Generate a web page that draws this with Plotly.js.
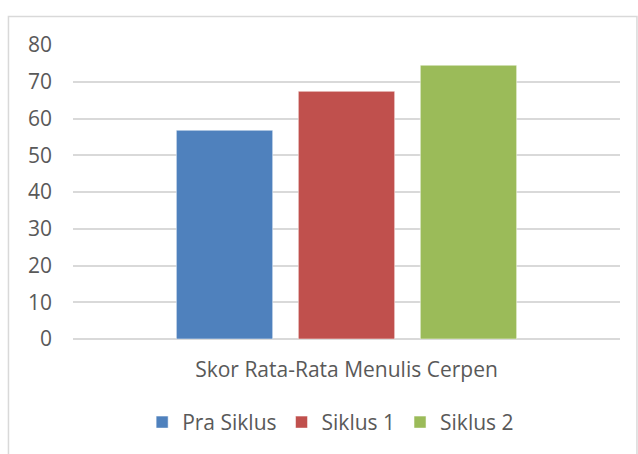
<!DOCTYPE html>
<html>
<head>
<meta charset="utf-8">
<script src="https://cdn.plot.ly/plotly-3.0.1.min.js"></script>
<style>html,body{margin:0;padding:0;background:#fff;}#chart{width:638px;height:454px;}</style>
</head>
<body>
<div id="chart"></div>
<script>
const categories = ["Skor Rata-Rata Menulis Cerpen"];
const seriesNames = ["Pra Siklus", "Siklus 1", "Siklus 2"];
const praSiklus = [56.8];
const siklus1 = [67.4];
const siklus2 = [74.5];
const yTicks = [0, 10, 20, 30, 40, 50, 60, 70, 80];
const colors = ["#4F81BD", "#C0504D", "#9BBB59"];

const values = [praSiklus, siklus1, siklus2];
const font = {family: "Open Sans, sans-serif", size: 21, color: "#595959"};

const data = seriesNames.map((name, i) => ({
  type: "bar",
  name: name,
  x: categories,
  y: values[i],
  marker: {color: colors[i], line: {color: "rgba(255,255,255,0.5)", width: 1}},
  hoverinfo: "none"
}));

const layout = {
  width: 638, height: 454,
  margin: {l: 73, r: 18, t: 45, b: 114},
  paper_bgcolor: "#fff", plot_bgcolor: "#fff",
  font: font,
  showlegend: true,
  barmode: "group",
  bargap: 0.331,
  bargroupgap: 0.21,
  xaxis: {
    showgrid: false, zeroline: false, showline: false,
    ticks: "", ticklabelstandoff: 16,
    tickfont: font
  },
  yaxis: {
    range: [0, 80], tickvals: yTicks, ticktext: yTicks.map(String),
    showgrid: true, gridcolor: "#d9d9d9", gridwidth: 2,
    zeroline: true, zerolinecolor: "#d9d9d9", zerolinewidth: 2,
    showline: false, ticks: "", ticklabelstandoff: 20,
    tickfont: font
  },
  legend: {
    orientation: "h", x: 0.471, xanchor: "center", y: -0.21, yanchor: "top",
    font: font, itemwidth: 30
  },
  shapes: [{
    type: "rect", xref: "paper", yref: "paper",
    x0: -0.118, x1: 1.031, y0: -0.45, y1: 1.097,
    line: {color: "#d9d9d9", width: 1.5}, fillcolor: "rgba(0,0,0,0)", layer: "below"
  }]
};

Plotly.newPlot("chart", data, layout, {displayModeBar: false, staticPlot: true});
</script>
</body>
</html>
